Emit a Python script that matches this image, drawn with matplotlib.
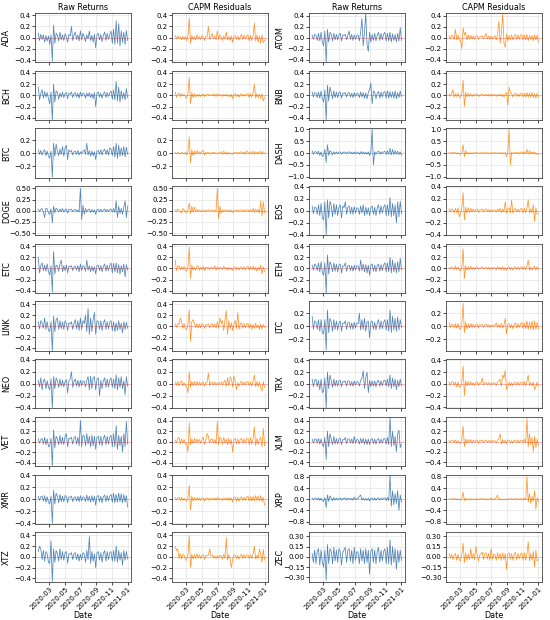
import numpy as np
import pandas as pd
import matplotlib
matplotlib.use("Agg")
import matplotlib.pyplot as plt
import matplotlib.dates as mdates
from matplotlib.ticker import MultipleLocator

dates = pd.date_range("2020-01-17", periods=71, freq="5D")

ada_raw = [0.08,-0.05,0.06,-0.03,0.05,-0.08,0.04,-0.06,0.03,
 -0.12,0.05,-0.42,0.22,-0.1,0.08,0.04,-0.06,0.1,-0.04,
 0.05,-0.05,0.07,0.02,-0.08,0.06,0.03,0.2,-0.05,0.04,
 0.1,-0.03,0.05,-0.06,0.12,-0.04,0.08,0.02,-0.07,0.05,
 -0.02,0.12,-0.05,0.04,-0.08,0.06,-0.18,0.05,0.08,-0.04,
 0.06,-0.07,0.04,0.1,-0.05,0.08,-0.03,0.05,0.12,-0.1,
 0.15,-0.12,0.3,-0.1,0.25,-0.15,0.12,-0.08,0.1,-0.12,0.13,-0.05]
ada_capm = [0.04,-0.02,0.03,-0.01,0.02,-0.04,0.02,-0.03,0.02,
 -0.05,0.03,0.35,-0.1,0.04,-0.03,0.02,-0.04,0.05,-0.02,
 0.02,-0.03,0.04,0.01,-0.05,0.03,0.02,0.2,-0.03,0.02,
 0.08,-0.02,0.03,-0.04,0.12,-0.03,0.05,0.01,-0.05,0.03,
 -0.02,0.1,-0.04,0.02,-0.05,0.03,-0.08,0.02,0.04,-0.03,
 0.03,-0.04,0.02,0.06,-0.03,0.04,-0.02,0.03,0.05,-0.06,
 0.04,-0.05,0.02,0.26,-0.06,0.05,-0.08,0.03,-0.1,0.05,-0.09,-0.04]
bch_raw = [0.15,-0.08,0.04,0.1,-0.05,0.07,-0.03,0.05,-0.06,
 -0.15,0.06,-0.45,0.2,-0.12,0.08,0.05,-0.07,0.04,-0.03,
 0.06,-0.04,0.03,0.05,-0.06,0.04,0.02,0.06,-0.04,0.03,
 0.05,-0.03,0.04,-0.05,0.06,-0.02,0.04,0.03,-0.05,0.04,
 -0.02,0.05,-0.04,0.03,-0.06,0.05,-0.2,0.04,0.06,-0.03,
 0.04,-0.05,0.03,0.06,-0.04,0.05,-0.02,0.04,0.08,-0.07,
 0.1,-0.08,0.25,-0.1,0.15,-0.12,0.08,-0.06,0.05,-0.08,0.12,-0.04]
bch_capm = [0.06,-0.03,0.02,0.04,-0.02,0.03,-0.01,0.02,-0.03,
 -0.05,0.03,0.32,-0.15,0.05,-0.04,0.03,-0.03,0.02,-0.02,
 0.02,-0.02,0.01,0.02,-0.02,0.01,0.02,0.02,-0.01,0.01,
 0.02,-0.01,0.02,-0.02,0.03,-0.01,0.02,0.01,-0.02,0.02,
 -0.01,0.02,-0.02,0.01,-0.03,0.02,-0.06,0.02,0.03,-0.02,
 0.02,-0.03,0.01,0.03,-0.02,0.02,-0.01,0.02,0.03,-0.04,
 0.03,-0.03,0.04,0.2,-0.05,0.03,-0.04,0.02,-0.06,0.03,-0.1,-0.03]
btc_raw = [0.05,-0.02,0.04,-0.03,0.02,0.05,-0.04,0.03,-0.05,
 -0.08,0.03,-0.37,0.15,-0.05,0.14,0.03,-0.04,0.06,-0.02,
 0.1,-0.05,0.08,0.12,-0.1,0.05,0.02,0.04,-0.03,0.02,
 0.03,-0.02,0.04,-0.03,0.02,-0.01,0.03,0.05,-0.02,0.15,
 -0.03,0.04,-0.05,0.03,-0.04,0.02,-0.1,0.03,0.04,-0.02,
 0.05,-0.03,0.04,0.06,-0.02,0.05,-0.03,0.08,0.06,-0.04,
 0.1,-0.06,0.15,-0.08,0.12,-0.05,0.08,-0.04,0.1,-0.06,0.09,-0.02]
btc_capm = [0.01,-0.01,0.01,0.0,-0.01,0.01,0.0,-0.01,0.01,
 -0.03,0.02,0.25,-0.15,0.05,-0.04,0.03,-0.02,0.04,-0.01,
 0.02,-0.01,0.03,0.04,-0.03,0.01,0.0,0.01,-0.01,0.0,
 0.01,0.0,0.01,-0.01,0.0,0.0,0.01,0.02,-0.02,0.03,
 -0.01,0.01,-0.02,0.01,-0.01,0.0,-0.02,0.01,0.01,0.0,
 0.01,-0.01,0.02,0.01,-0.01,0.02,-0.02,0.03,0.01,-0.01,
 0.02,-0.01,0.03,-0.02,0.02,-0.01,0.02,-0.01,0.03,-0.02,0.02,0.0]
doge_raw = [0.04,-0.02,0.03,0.05,-0.03,-0.15,0.06,0.04,-0.05,
 -0.08,0.04,-0.27,0.1,-0.04,0.06,0.03,-0.03,0.04,-0.02,
 0.05,-0.03,0.02,0.04,-0.05,0.03,0.02,0.03,-0.02,0.02,
 0.03,-0.02,0.02,-0.03,0.5,-0.2,0.12,-0.08,0.05,-0.03,
 0.02,0.04,-0.04,0.03,-0.03,0.02,-0.08,0.02,0.03,-0.02,
 0.03,-0.02,0.02,0.04,-0.02,0.03,-0.02,0.03,0.04,-0.03,
 0.05,-0.04,0.22,-0.15,0.1,-0.06,0.05,-0.08,0.08,0.22,-0.15,0.1]
doge_capm = [0.02,-0.01,0.04,0.02,-0.02,-0.05,0.05,0.02,-0.03,
 -0.04,0.02,0.17,-0.06,0.1,-0.03,0.08,-0.02,0.03,-0.01,
 0.02,-0.02,0.01,0.02,-0.02,0.01,0.01,0.02,-0.01,0.01,
 0.02,-0.01,0.01,-0.02,0.5,-0.18,0.1,-0.06,0.03,-0.02,
 0.01,0.02,-0.02,0.02,-0.02,0.01,-0.04,0.01,0.02,-0.01,
 0.02,-0.01,0.01,0.02,-0.01,0.02,-0.01,0.02,0.02,-0.02,
 0.03,-0.02,0.05,-0.04,0.03,-0.02,0.03,-0.05,0.22,-0.12,0.2,-0.05]
etc_raw = [0.2,-0.08,0.05,0.1,-0.04,0.06,-0.05,0.08,-0.06,
 -0.12,0.05,-0.42,0.3,-0.1,0.06,0.04,-0.05,0.08,0.15,
 -0.06,0.05,-0.04,0.06,-0.08,0.04,0.03,0.05,-0.04,0.03,
 0.04,-0.03,0.05,-0.06,0.08,-0.04,0.05,0.03,-0.05,0.15,
 -0.03,0.05,-0.06,0.04,-0.05,0.03,-0.1,0.05,0.06,-0.04,
 0.05,-0.06,0.04,0.08,-0.05,0.06,-0.04,0.05,0.1,-0.08,
 0.09,-0.06,0.1,-0.08,0.07,-0.1,0.05,-0.06,0.08,-0.15,0.07,-0.03]
etc_capm = [0.15,-0.04,0.03,0.05,-0.02,0.03,-0.02,0.04,-0.03,
 -0.05,0.03,0.38,-0.18,0.06,-0.03,0.02,-0.03,0.04,0.05,
 -0.03,0.02,-0.02,0.03,-0.04,0.02,0.01,0.02,-0.02,0.02,
 0.02,-0.01,0.05,-0.03,0.03,-0.02,0.02,0.01,-0.02,0.04,
 -0.01,0.02,-0.03,0.02,-0.02,0.01,-0.04,0.02,0.03,-0.02,
 0.02,-0.03,0.02,0.03,-0.02,0.03,-0.02,0.02,0.04,-0.03,
 0.03,-0.02,0.04,-0.03,0.02,-0.05,0.02,-0.03,0.06,-0.1,0.03,-0.05]
link_raw = [0.08,-0.05,0.1,0.06,-0.04,0.15,-0.06,0.08,-0.08,
 -0.1,0.08,-0.45,0.18,-0.1,0.12,0.15,-0.06,0.1,-0.05,
 0.08,-0.06,0.1,0.05,-0.08,0.06,0.04,0.08,-0.06,0.05,
 0.12,-0.05,0.1,-0.08,0.15,-0.06,0.1,0.05,0.2,-0.1,
 0.32,-0.15,0.15,-0.1,0.12,0.25,-0.15,0.1,0.08,-0.06,
 0.1,-0.08,0.06,0.12,-0.06,0.08,-0.05,0.07,0.1,-0.08,
 0.08,-0.1,0.06,-0.08,0.1,-0.06,0.05,-0.12,0.08,-0.06,0.07,-0.04]
link_capm = [0.04,-0.02,0.05,0.03,0.15,0.08,-0.04,0.05,-0.05,
 -0.06,0.04,0.3,-0.28,0.08,0.12,0.06,-0.03,0.05,-0.03,
 0.04,-0.03,0.05,0.02,-0.04,0.03,0.02,0.04,-0.03,0.02,
 0.05,-0.02,0.04,-0.04,0.08,-0.03,0.15,0.05,0.1,-0.08,
 0.12,0.28,-0.15,0.1,-0.05,0.06,-0.08,0.04,0.1,-0.04,
 0.25,-0.06,0.04,0.06,-0.04,0.05,-0.03,0.04,0.05,-0.04,
 0.04,-0.06,0.03,-0.04,0.05,-0.03,0.02,-0.06,0.04,-0.05,0.03,-0.03]
neo_raw = [0.06,-0.05,0.1,-0.1,0.05,0.08,-0.08,0.05,-0.06,
 -0.1,0.08,-0.4,0.12,-0.08,0.1,0.05,-0.06,0.08,-0.04,
 0.06,-0.05,0.04,0.07,-0.15,0.05,0.08,0.2,-0.06,0.04,
 0.08,-0.04,0.06,-0.05,0.06,-0.03,0.05,0.04,-0.05,0.06,
 0.12,-0.1,0.13,-0.08,0.1,0.12,-0.1,0.08,0.1,-0.2,
 0.06,-0.08,0.05,0.1,-0.06,0.08,-0.05,0.06,0.1,-0.06,
 0.08,-0.08,0.15,-0.1,0.1,-0.06,0.12,-0.08,0.05,-0.18,0.12,-0.04]
neo_capm = [0.03,-0.02,0.04,-0.03,0.02,0.05,-0.03,0.02,-0.03,
 -0.04,-0.15,0.2,-0.05,0.04,-0.03,0.04,-0.03,0.04,-0.02,
 0.03,-0.02,0.02,0.03,-0.04,0.02,0.03,0.18,-0.03,0.02,
 0.03,-0.02,0.03,-0.02,0.02,-0.01,0.02,0.03,-0.02,0.03,
 0.06,-0.04,0.1,-0.03,0.12,0.08,-0.05,0.13,0.05,-0.1,
 0.02,-0.04,0.02,0.04,-0.02,0.03,-0.02,0.03,0.04,-0.03,
 0.03,-0.04,0.05,0.15,-0.05,0.04,-0.04,0.03,-0.06,-0.12,0.04,-0.06]
vet_raw = [0.05,-0.03,0.04,0.06,-0.05,0.08,-0.06,0.05,-0.1,
 -0.08,0.06,-0.46,0.22,-0.12,0.1,0.05,-0.06,0.12,-0.05,
 0.08,-0.06,0.1,0.15,-0.1,0.06,0.05,0.08,-0.05,0.06,
 0.1,-0.05,0.08,-0.08,0.4,-0.1,0.12,0.1,-0.08,0.15,
 -0.05,0.1,-0.1,0.12,-0.08,0.1,-0.15,0.08,0.1,-0.06,
 0.1,-0.08,0.06,0.12,-0.06,0.1,-0.05,0.08,0.12,-0.1,
 0.15,-0.1,0.3,-0.15,0.12,-0.08,0.1,-0.2,0.15,-0.1,0.38,-0.05]
vet_capm = [0.03,-0.02,0.05,0.08,-0.04,0.05,-0.03,0.04,-0.05,
 -0.04,-0.2,0.35,-0.06,0.05,-0.04,0.06,-0.03,0.05,-0.02,
 0.04,-0.03,0.05,0.08,-0.05,0.03,0.15,0.1,-0.03,0.04,
 0.05,-0.03,0.04,-0.05,0.38,-0.06,0.08,0.05,-0.05,0.08,
 -0.03,0.05,-0.06,0.06,-0.05,0.04,-0.2,0.04,0.06,-0.04,
 0.05,-0.05,0.04,0.06,-0.03,0.05,-0.03,0.05,0.06,-0.06,
 0.07,-0.05,0.05,0.28,-0.08,0.06,-0.05,0.04,0.08,-0.1,0.25,-0.08]
xmr_raw = [0.05,-0.02,0.04,0.05,-0.03,0.06,-0.05,0.04,-0.05,
 -0.08,0.05,-0.4,0.15,-0.08,0.1,0.05,-0.06,0.08,-0.04,
 0.05,-0.04,0.06,0.05,-0.06,0.04,0.03,0.05,-0.04,0.03,
 0.04,-0.03,0.05,-0.04,0.06,-0.03,0.04,0.03,-0.04,0.07,
 -0.03,0.05,-0.05,0.06,-0.04,0.05,-0.1,0.05,0.06,-0.04,
 0.05,-0.06,0.04,0.07,-0.04,0.06,-0.03,0.05,0.08,-0.05,
 0.1,-0.06,0.08,-0.05,0.1,-0.04,0.09,-0.06,0.08,-0.05,0.06,-0.13]
xmr_capm = [0.03,-0.01,0.02,0.03,-0.02,0.03,-0.02,0.02,-0.02,
 -0.03,0.02,0.23,-0.18,0.05,-0.03,0.03,-0.02,0.03,-0.02,
 0.02,-0.02,0.02,0.02,-0.03,0.02,0.01,0.02,-0.02,0.01,
 0.02,-0.01,0.02,-0.02,0.03,-0.01,0.02,0.01,-0.02,0.02,
 -0.01,0.02,-0.02,0.03,-0.02,0.02,-0.05,0.03,0.04,-0.03,
 0.03,-0.03,0.02,0.04,-0.02,0.03,-0.02,0.03,0.05,-0.03,
 0.04,-0.03,0.05,-0.03,0.06,-0.02,0.05,-0.03,0.06,-0.04,0.03,-0.1]
xtz_raw = [0.1,0.2,0.15,-0.05,0.12,-0.08,0.1,0.06,-0.1,
 -0.12,0.3,-0.46,0.15,-0.1,0.12,0.06,-0.08,0.15,-0.05,
 0.1,-0.06,0.08,0.1,-0.12,0.06,0.05,0.08,-0.05,0.06,
 0.08,-0.05,0.06,-0.08,0.05,-0.05,0.08,0.05,-0.1,0.12,
 -0.05,0.38,-0.12,0.1,-0.08,0.06,-0.2,0.08,0.1,-0.06,
 0.08,-0.1,0.06,0.12,-0.08,0.1,-0.05,0.08,0.1,-0.08,
 0.12,-0.08,0.2,-0.1,0.12,-0.06,0.08,-0.15,0.12,-0.06,0.1,-0.04]
xtz_capm = [0.2,0.12,0.15,-0.03,0.06,-0.04,0.05,0.03,-0.05,
 -0.06,0.05,0.4,-0.2,0.05,-0.04,0.04,-0.03,0.06,-0.02,
 0.04,-0.03,0.03,0.04,-0.05,0.03,0.02,0.03,0.15,0.02,
 0.03,-0.02,0.02,-0.03,0.02,-0.02,0.03,0.02,-0.04,0.05,
 -0.02,0.35,-0.06,0.04,-0.03,-0.2,-0.04,0.03,0.04,-0.03,
 0.03,-0.04,0.02,0.05,-0.03,0.04,-0.02,0.03,0.04,-0.03,
 0.04,-0.03,0.05,0.2,-0.04,0.03,-0.03,0.15,0.05,-0.1,0.14,-0.06]

atom_raw = [0.05,-0.03,0.06,0.04,-0.05,0.08,-0.06,0.1,-0.08,
 -0.15,0.12,-0.45,0.15,-0.08,0.1,0.06,-0.06,0.08,-0.04,
 0.06,-0.04,0.05,0.08,-0.06,0.05,0.04,0.06,-0.04,0.05,
 0.12,-0.03,0.06,-0.05,0.05,-0.03,0.04,0.05,-0.06,0.1,
 0.35,-0.15,0.1,0.45,-0.12,-0.25,0.1,-0.08,0.06,-0.05,
 0.08,-0.06,0.05,0.1,-0.05,0.08,-0.04,0.06,0.1,-0.06,
 0.08,-0.06,0.1,-0.08,0.07,-0.05,0.06,-0.08,0.08,-0.06,0.18,-0.05]
atom_capm = [0.03,-0.02,0.04,0.03,-0.03,0.15,-0.04,0.05,-0.04,
 -0.05,-0.2,0.18,0.05,0.1,-0.04,0.05,-0.03,0.04,-0.02,
 0.03,-0.02,0.03,0.04,-0.03,0.02,0.02,0.03,-0.02,0.03,
 0.08,-0.02,0.03,-0.03,0.03,-0.02,0.02,0.03,-0.04,0.06,
 0.3,-0.1,0.08,0.45,-0.1,-0.18,0.06,-0.05,0.04,-0.04,
 0.05,-0.04,0.03,0.06,-0.03,0.05,-0.03,0.04,0.06,-0.04,
 0.05,-0.04,0.06,-0.05,0.04,-0.03,0.04,-0.06,0.05,-0.04,0.05,-0.08]
bnb_raw = [0.06,-0.03,0.05,0.04,-0.04,0.06,-0.05,0.08,-0.06,
 -0.12,0.1,-0.44,0.18,-0.1,0.15,0.05,-0.06,0.08,-0.04,
 0.06,-0.04,0.05,0.06,-0.05,0.04,0.03,0.05,-0.03,0.04,
 0.05,-0.03,0.04,-0.04,0.05,-0.02,0.04,0.03,-0.04,0.06,
 -0.03,0.05,-0.05,0.04,-0.06,0.05,0.1,0.22,-0.15,0.08,
 0.06,-0.06,0.04,0.07,-0.05,0.06,-0.03,0.05,0.07,-0.05,
 0.08,-0.05,0.07,-0.04,0.06,-0.05,0.08,-0.06,0.05,-0.04,0.08,-0.02]
bnb_capm = [0.02,-0.01,0.03,0.1,-0.03,0.03,-0.02,0.04,-0.03,
 -0.04,0.04,0.27,-0.2,0.06,-0.03,0.04,-0.02,0.03,-0.02,
 0.02,-0.01,0.02,0.02,-0.02,0.01,0.01,0.02,-0.01,0.01,
 0.02,-0.01,0.02,-0.02,0.02,-0.01,0.02,0.01,-0.02,0.02,
 -0.01,0.02,-0.02,0.02,-0.03,0.02,0.05,-0.18,0.15,0.06,
 0.03,-0.03,0.02,0.04,-0.02,0.03,-0.02,0.03,0.04,-0.03,
 0.04,-0.03,0.05,-0.03,0.04,-0.03,0.05,-0.04,0.03,-0.05,0.04,-0.03]
dash_raw = [0.1,-0.05,0.05,0.06,-0.04,0.08,-0.1,0.05,-0.15,
 -0.1,0.15,-0.4,0.35,-0.1,0.1,0.05,-0.08,0.06,-0.04,
 0.05,-0.03,0.04,0.05,-0.05,0.04,0.03,0.05,-0.03,0.04,
 0.05,-0.02,0.04,-0.04,0.05,-0.03,0.04,0.03,-0.05,0.06,
 -0.03,0.05,-0.04,0.04,-0.05,0.05,-0.1,0.04,1.0,-0.5,
 0.06,-0.05,0.04,0.08,-0.05,0.06,-0.03,0.05,0.08,-0.06,
 0.1,-0.05,0.2,-0.08,0.15,-0.06,0.1,-0.05,0.08,-0.06,0.05,-0.1]
dash_capm = [0.02,-0.01,0.02,0.03,-0.02,0.03,-0.03,0.02,-0.05,
 -0.04,0.05,0.35,-0.15,0.1,-0.04,0.03,-0.03,0.02,-0.02,
 0.02,-0.01,0.02,0.02,-0.02,0.01,0.01,0.02,-0.01,0.01,
 0.02,-0.01,0.01,-0.02,0.02,-0.01,0.02,0.01,-0.02,0.02,
 -0.01,0.02,-0.02,0.02,-0.02,0.02,-0.15,0.02,1.0,-0.5,
 0.03,-0.02,0.02,0.04,-0.02,0.03,-0.02,0.03,0.05,-0.03,
 0.06,-0.03,0.15,-0.04,0.1,-0.03,0.05,-0.03,0.04,-0.05,-0.03,-0.08]
eos_raw = [0.08,-0.05,0.06,0.05,-0.06,0.1,-0.08,0.12,-0.12,
 -0.15,0.15,-0.41,0.18,-0.12,0.16,0.08,-0.1,0.12,-0.06,
 0.1,-0.08,0.06,0.1,-0.12,0.08,0.05,0.15,-0.06,0.06,
 0.08,-0.05,0.06,-0.06,0.07,-0.04,0.05,0.04,-0.06,0.08,
 -0.04,0.1,-0.08,0.06,-0.06,0.05,-0.08,0.05,0.08,-0.06,
 0.06,-0.08,0.05,0.1,-0.06,0.08,-0.04,0.06,0.1,-0.08,
 0.1,-0.08,0.22,-0.1,0.12,-0.08,0.1,-0.2,0.15,-0.1,0.16,-0.05]
eos_capm = [0.03,-0.02,0.03,0.02,-0.03,0.04,-0.03,0.05,-0.1,
 -0.05,0.05,0.3,-0.15,0.06,-0.04,0.05,-0.03,0.04,-0.02,
 0.03,-0.02,0.02,0.03,-0.03,0.02,0.01,0.03,-0.02,0.02,
 0.03,-0.01,0.02,-0.02,0.02,-0.01,0.02,0.01,-0.02,0.03,
 -0.01,0.04,-0.03,0.03,-0.02,0.15,-0.04,0.03,0.05,-0.03,
 0.18,-0.04,0.02,0.04,-0.02,0.03,-0.02,0.03,0.04,-0.03,
 0.04,-0.03,0.05,0.18,-0.04,0.03,-0.03,0.1,-0.18,0.05,-0.06,-0.05]
eth_raw = [0.06,-0.03,0.08,0.05,-0.04,0.1,-0.06,0.12,-0.08,
 -0.12,0.1,-0.44,0.24,-0.1,0.12,0.06,-0.06,0.1,-0.05,
 0.08,-0.06,0.06,0.08,-0.08,0.05,0.04,0.1,-0.05,0.05,
 0.06,-0.04,0.05,-0.05,0.06,-0.03,0.05,0.04,-0.05,0.15,
 -0.04,0.08,-0.06,0.07,-0.08,0.06,-0.12,0.06,0.08,-0.05,
 0.06,-0.06,0.05,0.08,-0.05,0.07,-0.04,0.06,0.1,-0.06,
 0.1,-0.06,0.2,-0.08,0.15,-0.06,0.1,-0.08,0.12,-0.06,0.18,-0.03]
eth_capm = [0.02,-0.01,0.03,0.02,-0.02,0.04,-0.02,0.03,-0.03,
 -0.04,0.04,0.35,-0.18,0.05,-0.03,0.03,-0.02,0.04,-0.02,
 0.02,-0.02,0.02,0.02,-0.02,0.01,0.01,0.03,-0.01,0.01,
 0.02,-0.01,0.02,-0.02,0.02,-0.01,0.02,0.01,-0.02,0.03,
 -0.01,0.02,-0.02,0.03,-0.03,0.02,-0.04,0.02,0.03,-0.02,
 0.02,-0.03,0.02,0.03,-0.02,0.03,-0.02,0.02,0.03,-0.02,
 0.03,-0.02,0.04,0.15,-0.03,0.02,-0.03,0.02,0.04,-0.03,0.03,-0.02]
ltc_raw = [0.15,-0.05,0.08,0.06,-0.05,0.1,-0.08,0.1,-0.1,
 -0.12,0.1,-0.37,0.25,-0.1,0.12,0.06,-0.08,0.1,-0.05,
 0.08,-0.06,0.05,0.08,-0.08,0.05,0.04,0.08,-0.05,0.05,
 0.06,-0.04,0.05,-0.05,0.06,-0.03,0.05,0.04,0.2,-0.06,
 0.1,-0.05,0.12,-0.08,0.06,0.08,-0.18,0.06,0.08,-0.05,
 0.06,-0.06,0.05,0.1,-0.05,0.08,-0.04,0.06,0.1,-0.06,
 0.1,-0.08,0.25,-0.1,0.15,-0.06,0.12,-0.08,0.14,-0.06,0.1,-0.02]
ltc_capm = [0.06,-0.02,0.03,0.02,-0.02,0.04,-0.03,0.04,-0.04,
 -0.05,0.05,0.35,-0.1,0.06,-0.04,0.04,-0.03,0.04,-0.02,
 0.03,-0.02,0.02,0.03,-0.03,0.02,0.01,0.03,-0.02,0.02,
 0.03,-0.01,0.02,-0.02,0.02,-0.01,0.02,0.01,0.05,-0.02,
 0.03,-0.02,0.04,-0.03,0.02,0.12,-0.12,0.03,0.04,-0.03,
 0.03,-0.04,0.02,0.05,-0.03,0.04,-0.02,0.03,0.06,-0.04,
 0.05,-0.04,0.08,-0.05,0.06,-0.04,0.08,-0.06,0.08,-0.05,0.06,-0.04]
trx_raw = [0.08,-0.05,0.06,0.08,-0.05,0.06,-0.1,0.08,-0.15,
 -0.12,0.1,-0.42,0.2,-0.08,0.15,0.05,-0.06,0.08,-0.04,
 0.06,-0.04,0.05,0.06,-0.05,0.04,0.03,0.05,-0.04,0.05,
 0.05,-0.03,0.04,-0.04,0.05,-0.02,0.04,0.03,-0.04,0.06,
 0.1,0.22,-0.08,0.1,0.2,-0.15,0.06,-0.05,0.05,-0.04,
 0.05,-0.05,0.04,0.06,-0.04,0.05,-0.03,0.05,0.06,-0.04,
 0.08,-0.05,0.15,-0.08,0.1,-0.05,0.08,-0.1,0.06,-0.05,0.08,-0.03]
trx_capm = [0.03,-0.02,0.03,0.04,-0.02,0.03,-0.05,0.03,-0.06,
 -0.05,0.04,0.3,-0.2,0.05,-0.03,0.04,-0.02,0.03,-0.02,
 0.02,-0.02,0.02,0.03,-0.02,0.02,0.01,0.1,-0.02,0.02,
 0.02,-0.01,0.02,-0.02,0.02,-0.01,0.02,0.01,-0.02,0.03,
 0.05,0.08,-0.04,0.15,0.1,0.23,-0.1,-0.05,0.03,-0.03,
 0.02,-0.03,0.02,0.03,-0.02,0.03,-0.02,0.02,0.03,-0.02,
 0.04,-0.03,0.04,0.15,-0.03,0.02,-0.03,0.03,-0.1,-0.05,0.03,-0.04]
xlm_raw = [0.05,-0.03,0.04,0.05,-0.03,0.06,-0.05,0.05,-0.06,
 -0.1,0.08,-0.35,0.2,-0.1,0.15,0.05,-0.06,0.1,-0.05,
 0.06,-0.05,0.05,0.06,-0.06,0.04,0.03,0.08,-0.04,0.05,
 0.05,-0.03,0.05,-0.04,0.1,-0.03,0.04,0.03,-0.05,0.06,
 -0.03,0.06,-0.05,0.05,-0.06,0.05,-0.06,0.04,0.06,-0.04,
 0.05,-0.05,0.04,0.06,-0.04,0.05,-0.03,0.05,0.06,-0.05,
 0.08,-0.06,0.48,-0.1,0.2,-0.08,0.1,-0.2,0.15,0.22,-0.12,-0.05]
xlm_capm = [0.02,-0.01,0.02,0.03,-0.02,0.03,-0.03,0.02,-0.03,
 -0.04,0.05,0.3,-0.1,0.05,-0.03,0.04,-0.02,0.04,-0.02,
 0.03,-0.02,0.02,0.03,-0.03,0.02,0.01,0.03,-0.02,0.02,
 0.02,-0.01,0.02,-0.02,0.03,-0.01,0.02,0.01,-0.02,0.03,
 0.05,0.15,-0.05,0.04,-0.03,0.03,-0.04,0.02,0.03,-0.02,
 0.02,-0.03,0.02,0.03,-0.02,0.03,-0.02,0.02,0.03,-0.02,
 0.04,-0.03,0.45,-0.1,0.15,-0.06,0.08,-0.2,0.1,-0.12,0.05,-0.08]
xrp_raw = [0.04,-0.02,0.03,0.04,-0.02,0.05,-0.04,0.04,-0.05,
 -0.08,0.06,-0.3,0.15,-0.08,0.12,0.04,-0.05,0.06,-0.03,
 0.04,-0.03,0.03,0.04,-0.04,0.03,0.02,0.05,-0.03,0.03,
 0.03,-0.02,0.03,-0.03,0.08,-0.02,0.03,0.02,0.1,0.15,
 -0.03,0.04,-0.04,0.03,-0.04,0.03,-0.06,0.03,0.04,-0.03,
 0.04,-0.04,0.03,0.05,-0.03,0.04,-0.02,0.04,0.05,-0.04,
 0.06,-0.05,0.85,-0.25,0.3,-0.2,0.2,-0.15,0.3,-0.4,0.15,-0.1]
xrp_capm = [0.02,-0.01,0.02,0.02,-0.01,0.02,-0.02,0.02,-0.02,
 -0.03,0.03,0.25,-0.05,0.03,-0.02,0.02,-0.01,0.02,-0.01,
 0.01,-0.01,0.01,0.02,-0.01,0.01,0.01,0.02,-0.01,0.01,
 0.01,-0.01,0.01,-0.01,0.05,-0.01,0.01,0.01,0.06,0.15,
 -0.01,0.02,-0.02,0.01,-0.02,0.01,-0.02,0.01,0.02,-0.01,
 0.02,-0.02,0.01,0.02,-0.01,0.02,-0.01,0.02,0.02,-0.02,
 0.03,-0.02,0.8,-0.1,0.2,-0.15,0.1,-0.08,0.3,-0.35,0.05,-0.1]
zec_raw = [0.05,-0.08,0.1,-0.1,0.08,0.12,-0.12,0.1,-0.08,
 -0.15,0.1,-0.34,0.18,-0.1,0.12,0.08,-0.1,0.14,-0.06,
 0.1,-0.08,0.12,0.08,-0.12,0.06,0.1,0.14,-0.08,0.1,
 0.12,-0.06,0.1,-0.1,0.14,-0.05,0.08,0.06,-0.1,0.12,
 -0.06,0.1,-0.1,0.12,-0.08,0.1,-0.25,0.08,0.12,-0.08,
 0.1,-0.1,0.08,0.14,-0.08,0.1,-0.06,0.08,0.12,-0.1,
 0.14,-0.1,0.25,-0.12,0.15,-0.08,0.12,-0.18,0.1,-0.08,0.1,-0.05]
zec_capm = [0.05,-0.02,0.04,-0.04,0.03,0.05,-0.05,0.04,-0.04,
 -0.06,0.05,0.2,-0.08,0.06,-0.05,0.04,-0.04,0.12,-0.03,
 0.05,-0.04,0.15,0.04,-0.06,0.03,0.05,0.07,-0.04,0.05,
 0.06,-0.03,0.05,-0.05,0.12,-0.03,0.04,0.03,-0.05,0.06,
 -0.03,0.05,-0.05,0.06,-0.04,0.05,-0.18,0.04,0.06,-0.04,
 0.05,-0.05,0.04,0.07,-0.04,0.05,-0.03,0.04,0.06,-0.05,
 0.06,-0.05,0.05,0.22,-0.06,0.05,-0.05,0.08,-0.15,0.1,-0.06,-0.04]

left_coins = ["ADA", "BCH", "BTC", "DOGE", "ETC", "LINK", "NEO", "VET", "XMR", "XTZ"]
right_coins = ["ATOM", "BNB", "DASH", "EOS", "ETH", "LTC", "TRX", "XLM", "XRP", "ZEC"]
col_titles = ["Raw Returns", "CAPM Residuals", "Raw Returns", "CAPM Residuals"]

raw_series = {
    "ADA": ada_raw, "BCH": bch_raw, "BTC": btc_raw, "DOGE": doge_raw, "ETC": etc_raw,
    "LINK": link_raw, "NEO": neo_raw, "VET": vet_raw, "XMR": xmr_raw, "XTZ": xtz_raw,
    "ATOM": atom_raw, "BNB": bnb_raw, "DASH": dash_raw, "EOS": eos_raw, "ETH": eth_raw,
    "LTC": ltc_raw, "TRX": trx_raw, "XLM": xlm_raw, "XRP": xrp_raw, "ZEC": zec_raw,
}
capm_series = {
    "ADA": ada_capm, "BCH": bch_capm, "BTC": btc_capm, "DOGE": doge_capm, "ETC": etc_capm,
    "LINK": link_capm, "NEO": neo_capm, "VET": vet_capm, "XMR": xmr_capm, "XTZ": xtz_capm,
    "ATOM": atom_capm, "BNB": bnb_capm, "DASH": dash_capm, "EOS": eos_capm, "ETH": eth_capm,
    "LTC": ltc_capm, "TRX": trx_capm, "XLM": xlm_capm, "XRP": xrp_capm, "ZEC": zec_capm,
}

# axis styling per coin: (symmetric y limit, tick step)
axis_style = {
    "ADA": (0.44, 0.2), "BCH": (0.44, 0.2), "BTC": (0.38, 0.2), "DOGE": (0.55, 0.25),
    "ETC": (0.44, 0.2), "LINK": (0.45, 0.2), "NEO": (0.41, 0.2), "VET": (0.47, 0.2),
    "XMR": (0.41, 0.2), "XTZ": (0.46, 0.2), "ATOM": (0.45, 0.2), "BNB": (0.44, 0.2),
    "DASH": (1.04, 0.5), "EOS": (0.41, 0.2), "ETH": (0.44, 0.2), "LTC": (0.38, 0.2),
    "TRX": (0.42, 0.2), "XLM": (0.48, 0.2), "XRP": (0.88, 0.4), "ZEC": (0.36, 0.15),
}

BLUE = "#3c77b0"
ORANGE = "#ff8a14"
FS = 5.8
TS = 5.0

fig, axes = plt.subplots(10, 4, figsize=(5.5, 6.2), dpi=100, sharex=True)
fig.subplots_adjust(left=0.064, right=0.985, top=0.979, bottom=0.062,
                    wspace=0.43, hspace=0.17)

for r in range(10):
    for half, coins in enumerate([left_coins, right_coins]):
        coin = coins[r]
        lim, step = axis_style[coin]
        for k, (series, color) in enumerate([(raw_series[coin], BLUE),
                                             (capm_series[coin], ORANGE)]):
            ax = axes[r, half * 2 + k]
            n = min(len(dates), len(series))
            ax.plot(dates[:n], series[:n], color=color, lw=0.55, alpha=0.9)
            ax.axhline(0, color="red", lw=0.5, alpha=0.3)
            ax.set_ylim(-lim, lim)
            ax.yaxis.set_major_locator(MultipleLocator(step))
            ax.grid(True, color="#d0d0d0", lw=0.4, alpha=0.7)
            ax.set_axisbelow(True)
            ax.tick_params(labelsize=TS, length=2, width=0.5, pad=1.2)
            for sp in ax.spines.values():
                sp.set_linewidth(0.6)
                sp.set_color("#444444")
            if k == 0:
                ax.set_ylabel(coin, fontsize=FS)
                ax.yaxis.set_label_coords(-0.255, 0.5)
            if r == 0:
                ax.set_title(col_titles[half * 2 + k], fontsize=FS, pad=2.5)
            if r == 9:
                ax.set_xlabel("Date", fontsize=FS, labelpad=0)

ax0 = axes[0, 0]
ax0.xaxis.set_major_locator(mdates.MonthLocator(bymonth=[1, 3, 5, 7, 9, 11]))
ax0.xaxis.set_major_formatter(mdates.DateFormatter("%Y-%m"))
ax0.set_xlim(pd.Timestamp("2020-01-05"), pd.Timestamp("2021-01-14"))
for ax in axes[9, :]:
    for lab in ax.get_xticklabels():
        lab.set_rotation(45)
        lab.set_ha("right")
        lab.set_rotation_mode("anchor")

fig.savefig("out.png", dpi=100)
